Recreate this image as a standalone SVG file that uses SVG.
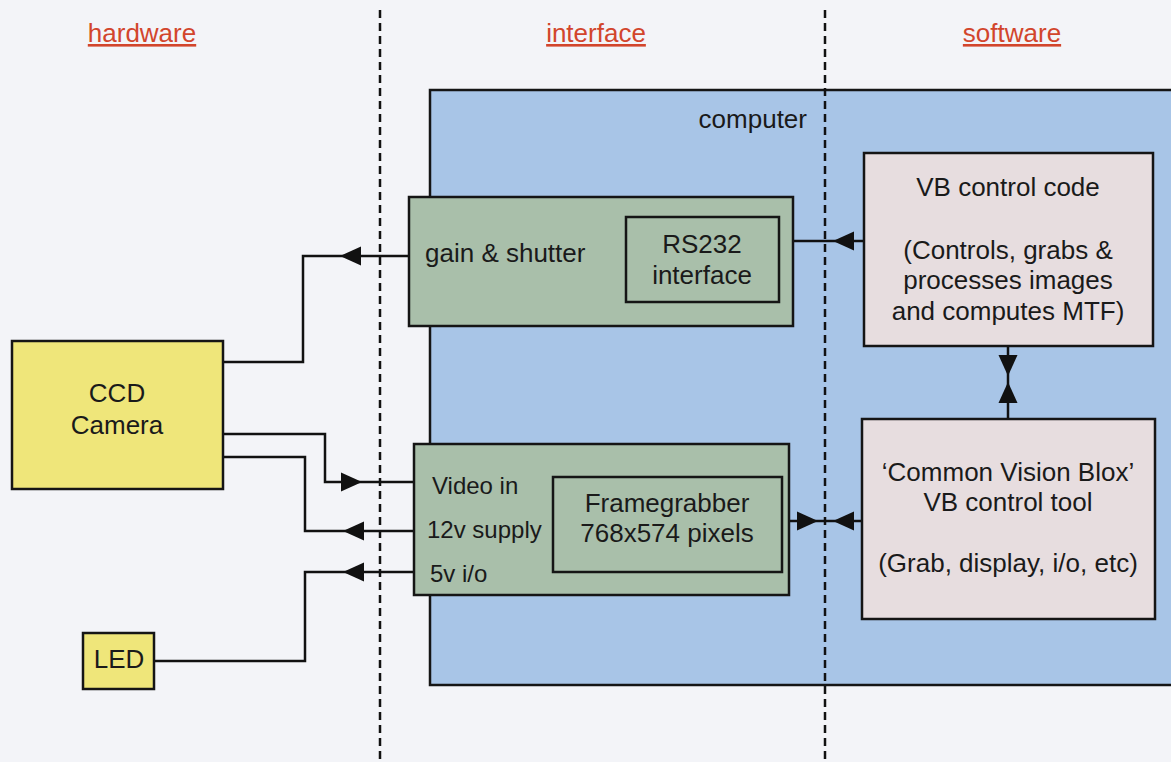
<svg xmlns="http://www.w3.org/2000/svg" xmlns:xlink="http://www.w3.org/1999/xlink" width="1171" height="762" viewBox="0 0 1171 762">
<defs>
<style>
text{font-family:"Liberation Sans",Arial,sans-serif;font-size:26px;fill:#1a1a1a}
.hdr{fill:#d2452c;text-decoration:underline;text-anchor:middle}
.c{text-anchor:middle}
.sm{font-size:24px}
.box{stroke:#151515;stroke-width:2.5}
.green{fill:#a9bfaa}
.pink{fill:#e7dddf}
.yellow{fill:#efe67a}
.wire{fill:none;stroke:#111;stroke-width:2.5}
.dash{stroke:#111;stroke-width:2.5;stroke-dasharray:8 5;fill:none}
</style>
<path id="ah" d="M0,0 L-21,-9.5 L-21,9.5 Z" fill="#111"/>
</defs>
<rect width="1171" height="762" fill="#f3f4f8"/>

<g id="headers">
<text class="hdr" x="142" y="42">hardware</text>
<text class="hdr" x="596" y="42">interface</text>
<text class="hdr" x="1012" y="42">software</text>
</g>

<g id="computer">
<rect class="box" x="430" y="90" width="760" height="595" fill="#a8c5e7"/>
<text x="807" y="128" text-anchor="end">computer</text>
</g>

<g id="dividers">
<line class="dash" x1="380" y1="10" x2="380" y2="762"/>
<line class="dash" x1="825" y1="10" x2="825" y2="762"/>
</g>

<g id="connectors">
<path class="wire" d="M409,256 H303 V362 H223"/>
<use xlink:href="#ah" transform="translate(340,256) rotate(180)"/>
<path class="wire" d="M793,241 H864"/>
<use xlink:href="#ah" transform="translate(833,241) rotate(180)"/>
<path class="wire" d="M223,434 H325 V482 H414"/>
<use xlink:href="#ah" transform="translate(362,482)"/>
<path class="wire" d="M414,531 H305 V457 H223"/>
<use xlink:href="#ah" transform="translate(343,531) rotate(180)"/>
<path class="wire" d="M414,572 H305 V661 H154"/>
<use xlink:href="#ah" transform="translate(343,572) rotate(180)"/>
<path class="wire" d="M789,521 H862"/>
<use xlink:href="#ah" transform="translate(818,521)"/>
<use xlink:href="#ah" transform="translate(833,521) rotate(180)"/>
<path class="wire" d="M1008,346 V419"/>
<use xlink:href="#ah" transform="translate(1008,376) rotate(90)"/>
<use xlink:href="#ah" transform="translate(1008,382) rotate(-90)"/>
</g>

<g id="gain-shutter">
<rect class="box green" x="409" y="197" width="384" height="129"/>
<text x="425" y="262">gain &amp; shutter</text>
</g>
<g id="rs232">
<rect class="box green" x="626" y="217" width="153" height="85"/>
<text class="c" x="702" y="253">RS232</text>
<text class="c" x="702" y="284">interface</text>
</g>

<g id="video-board">
<rect class="box green" x="414" y="444" width="375" height="151"/>
<text class="sm" x="432" y="494">Video in</text>
<text class="sm" x="427" y="538">12v supply</text>
<text class="sm" x="430" y="582">5v i/o</text>
</g>
<g id="framegrabber">
<rect class="box green" x="553" y="477" width="229" height="95"/>
<text class="c" x="667" y="512">Framegrabber</text>
<text class="c" x="667" y="542">768x574 pixels</text>
</g>

<g id="vb-code">
<rect class="box pink" x="864" y="153" width="289" height="193"/>
<text class="c" x="1008" y="196">VB control code</text>
<text class="c" x="1008" y="259">(Controls, grabs &amp;</text>
<text class="c" x="1008" y="289">processes images</text>
<text class="c" x="1008" y="320">and computes MTF)</text>
</g>

<g id="cvb">
<rect class="box pink" x="862" y="419" width="293" height="200"/>
<text class="c" x="1008" y="481">‘Common Vision Blox’</text>
<text class="c" x="1008" y="511">VB control tool</text>
<text class="c" x="1008" y="572">(Grab, display, i/o, etc)</text>
</g>

<g id="ccd-camera">
<rect class="box yellow" x="12" y="341" width="211" height="148"/>
<text class="c" x="117" y="402">CCD</text>
<text class="c" x="117" y="434">Camera</text>
</g>

<g id="led">
<rect class="box yellow" x="83" y="633" width="71" height="56"/>
<text class="c" x="119" y="668">LED</text>
</g>
</svg>
